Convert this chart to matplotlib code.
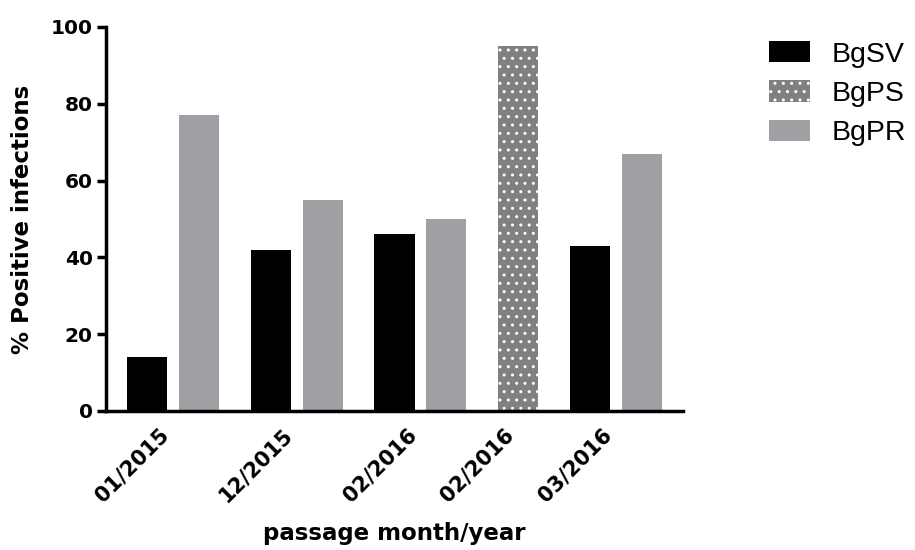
import matplotlib
matplotlib.use("Agg")
import matplotlib.pyplot as plt

# ---- data ----
categories = ['01/2015', '12/2015', '02/2016', '02/2016', '03/2016']
series_names = ['BgSV', 'BgPS', 'BgPR']
bgsv = [14, 42, 46, None, 43]
bgps = [None, None, None, 95, None]
bgpr = [77, 55, 50, None, 67]
yticks = [0, 20, 40, 60, 80, 100]

# ---- styles ----
colors = {'BgSV': '#000000', 'BgPS': '#808080', 'BgPR': '#a0a0a4'}
hatches = {'BgSV': None, 'BgPS': '..', 'BgPR': None}

fig = plt.figure(figsize=(9.15, 5.5), dpi=100)
ax = fig.add_axes([106/915, 1 - 411/550, (683-106)/915, (411-27)/550])

series_vals = {'BgSV': bgsv, 'BgPS': bgps, 'BgPR': bgpr}
in_step, gap_step, width = 1.29, 1.795, 1.0

pos = 0.0
centers = []
xs = {n: [] for n in series_names}
hs = {n: [] for n in series_names}
all_pos = []
for gi in range(len(categories)):
    gpos = []
    for n in series_names:
        v = series_vals[n][gi]
        if v is None:
            continue
        if gpos:
            pos += in_step
        xs[n].append(pos)
        hs[n].append(v)
        gpos.append(pos)
    centers.append(sum(gpos) / len(gpos))
    all_pos.extend(gpos)
    pos += gap_step

for n in series_names:
    h = hatches[n]
    ax.bar(xs[n], hs[n], width=width, color=colors[n],
           edgecolor='white' if h else colors[n], linewidth=0,
           hatch=h, label=n, zorder=2)

ax.set_xlim(all_pos[0] - 1.03, all_pos[-1] + 1.03)
ax.set_ylim(0, 100)
ax.set_yticks(yticks)
ax.set_yticklabels([str(t) for t in yticks], fontsize=14.5, fontweight='bold')
ax.set_xticks(centers)
ax.set_xticklabels(categories, rotation=45, ha='right', va='bottom',
                   rotation_mode='anchor', fontsize=15, fontweight='bold')

for s in ['top', 'right']:
    ax.spines[s].set_visible(False)
for s in ['left', 'bottom']:
    ax.spines[s].set_linewidth(2.5)
    ax.spines[s].set_zorder(3)
ax.tick_params(axis='y', length=6.5, width=2.5, pad=3)
ax.tick_params(axis='x', length=0, pad=20)

ax.set_ylabel('% Positive infections', fontsize=16.5, fontweight='bold')
ax.yaxis.set_label_coords(-0.124, 0.5)
ax.set_xlabel('passage month/year', fontsize=16.5, fontweight='bold')
ax.xaxis.set_label_coords(0.5, -0.289)

ax.legend(loc='upper left', bbox_to_anchor=(769/915, 1 - 41/550),
          bbox_transform=fig.transFigure, frameon=False, borderpad=0,
          borderaxespad=0, handlelength=1.45, handleheight=0.78,
          handletextpad=0.74, labelspacing=0.45,
          prop={'family': 'Liberation Sans', 'size': 20.5})

fig.savefig('out.png', dpi=100)
